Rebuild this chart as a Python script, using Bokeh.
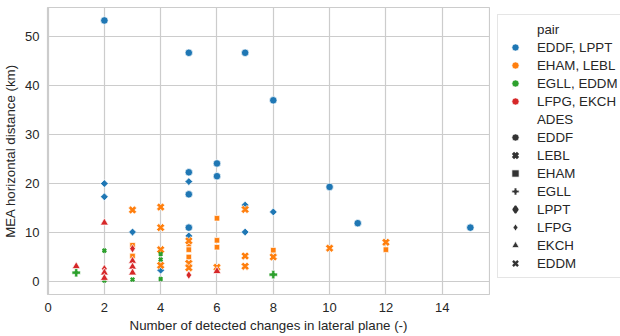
import math
from bokeh.plotting import figure
from bokeh.layouts import row
from bokeh.models import Legend, LegendItem, Range1d, FixedTicker
from bokeh.embed import file_html
from bokeh.resources import INLINE

# ---- data ----
pairs = ["EDDF, LPPT", "EHAM, LEBL", "EGLL, EDDM", "LFPG, EKCH"]
ades_list = ["EDDF", "LEBL", "EHAM", "EGLL", "LPPT", "LFPG", "EKCH", "EDDM"]
ades_pair = {"EDDF": "EDDF, LPPT", "LPPT": "EDDF, LPPT",
             "EHAM": "EHAM, LEBL", "LEBL": "EHAM, LEBL",
             "EGLL": "EGLL, EDDM", "EDDM": "EGLL, EDDM",
             "LFPG": "LFPG, EKCH", "EKCH": "LFPG, EKCH"}

eddf_x = [2, 5, 7, 8, 6, 5, 6, 10, 5, 11, 5, 15]
eddf_y = [53.3, 46.7, 46.7, 37.0, 24.1, 22.3, 21.5, 19.3, 17.8, 11.9, 11.0, 11.0]
lppt_x = [2, 2, 5, 7, 8, 3, 7, 5, 4]
lppt_y = [20.0, 17.3, 20.4, 15.6, 14.2, 10.1, 10.1, 9.3, 2.3]
eham_x = [3, 3, 5, 5, 5, 6, 6, 6, 8, 12]
eham_y = [7.4, 5.2, 7.6, 6.5, 5.0, 12.9, 8.4, 7.0, 6.4, 6.5]
lebl_x = [3, 4, 7, 4, 4, 4, 5, 5, 5, 6, 7, 7, 8, 10, 12]
lebl_y = [14.6, 15.2, 14.7, 11.0, 6.5, 3.3, 8.3, 3.7, 2.8, 2.9, 5.2, 3.1, 5.0, 6.8, 8.0]
egll_x = [1, 8]
egll_y = [1.8, 1.4]
eddm_x = [2, 2, 3, 4, 4, 4]
eddm_y = [6.3, 0.2, 0.4, 5.6, 4.5, 0.5]
lfpg_x = [2, 3, 5]
lfpg_y = [2.6, 6.7, 1.3]
ekch_x = [1, 2, 2, 2, 3, 3, 3, 6]
ekch_y = [3.1, 12.0, 1.8, 0.7, 4.2, 3.0, 1.8, 2.1]

x_ticks = [0, 2, 4, 6, 8, 10, 12, 14]
y_ticks = [0, 10, 20, 30, 40, 50]

series = {
    "EDDF": (eddf_x, eddf_y), "LPPT": (lppt_x, lppt_y),
    "EHAM": (eham_x, eham_y), "LEBL": (lebl_x, lebl_y),
    "EGLL": (egll_x, egll_y), "EDDM": (eddm_x, eddm_y),
    "LFPG": (lfpg_x, lfpg_y), "EKCH": (ekch_x, ekch_y),
}

# ---- styles ----
pair_colors = {"EDDF, LPPT": "#1f77b4", "EHAM, LEBL": "#ff7f0e",
               "EGLL, EDDM": "#2ca02c", "LFPG, EKCH": "#d62728"}
marker_style = {
    "EDDF": dict(marker="circle", size=7.5, angle=0),
    "LEBL": dict(marker="plus", size=8.5, angle=math.pi / 4),
    "EHAM": dict(marker="square", size=5.5, angle=0),
    "EGLL": dict(marker="plus", size=8.5, angle=0),
    "LPPT": dict(marker="square", size=5.5, angle=math.pi / 4),
    "LFPG": dict(marker="diamond", size=8.5, angle=0),
    "EKCH": dict(marker="triangle", size=8, angle=0),
    "EDDM": dict(marker="x", size=5, angle=0),
}
# legend glyphs cannot be rotated, so rotated shapes get an equivalent unrotated marker
legend_style = {
    "EDDF": dict(marker="circle", line_color="white", line_width=0.7),
    "LEBL": dict(marker="x", line_color="#333333", line_width=3.2),
    "EHAM": dict(marker="square", line_color="white", line_width=0.7),
    "EGLL": dict(marker="plus", line_color="white", line_width=0.7),
    "LPPT": dict(marker="diamond", line_color="#333333", line_width=1.6),
    "LFPG": dict(marker="diamond", line_color="white", line_width=0.7),
    "EKCH": dict(marker="triangle", line_color="white", line_width=0.7),
    "EDDM": dict(marker="x", line_color="#333333", line_width=2.4),
}
FONT = "Liberation Sans"
TXT = "#262626"
GRID = "#cccccc"
LEG_MARK = "#333333"

p = figure(width=490, height=336, output_backend="svg", toolbar_location=None,
           x_range=Range1d(-0.02, 15.68), y_range=Range1d(-2.66, 55.95),
           min_border_left=47, min_border_top=7, min_border_bottom=42,
           min_border_right=1, background_fill_color="white",
           border_fill_color="white")
p.outline_line_color = GRID
p.outline_line_width = 1.2

for ades in ["EDDF", "LPPT", "EHAM", "LEBL", "EGLL", "EDDM", "LFPG", "EKCH"]:
    xs, ys = series[ades]
    col = pair_colors[ades_pair[ades]]
    st = marker_style[ades]
    if st["marker"] == "x":
        p.scatter(xs, ys, marker="x", size=st["size"], line_color=col, line_width=2.2)
    else:
        p.scatter(xs, ys, marker=st["marker"], size=st["size"], angle=st["angle"],
                  fill_color=col, line_color="white", line_width=0.7)

# ---- axes ----
p.xaxis.ticker = FixedTicker(ticks=x_ticks)
p.yaxis.ticker = FixedTicker(ticks=y_ticks)
p.xaxis.axis_label = "Number of detected changes in lateral plane (-)"
p.yaxis.axis_label = "MEA horizontal distance (km)"
for ax in (p.xaxis, p.yaxis):
    ax.axis_line_color = None
    ax.major_tick_line_color = None
    ax.minor_tick_line_color = None
    ax.major_tick_out = 0
    ax.major_tick_in = 0
    ax.minor_tick_out = 0
    ax.minor_tick_in = 0
    ax.major_label_text_font = FONT
    ax.major_label_text_font_size = "13px"
    ax.major_label_text_color = TXT
    ax.axis_label_text_font = FONT
    ax.axis_label_text_font_size = "13.3px"
    ax.axis_label_text_font_style = "normal"
    ax.axis_label_text_color = TXT
p.xaxis.major_label_standoff = 8
p.xaxis.axis_label_standoff = 3
p.yaxis.major_label_standoff = 8
p.yaxis.axis_label_standoff = 4
p.xgrid.grid_line_color = GRID
p.ygrid.grid_line_color = GRID
p.xgrid.grid_line_width = 1.2
p.ygrid.grid_line_width = 1.2

# ---- legend (separate panel to the right) ----
q = figure(width=130, height=336, output_backend="svg", toolbar_location=None,
           x_range=Range1d(0, 1), y_range=Range1d(0, 1),
           x_axis_type=None, y_axis_type=None, min_border=0,
           background_fill_color="white", border_fill_color="white")
q.outline_line_color = None
q.xgrid.visible = False
q.ygrid.visible = False

# legend-only proxy glyphs, placed outside the (0..1) view so only the legend shows them
proxy_x = [5]
proxy_y = [5]

items = []
blank = q.scatter(proxy_x, proxy_y, marker="circle", size=1, fill_alpha=0, line_alpha=0)
items.append(LegendItem(label="pair", renderers=[blank]))
for pr in pairs:
    r = q.scatter(proxy_x, proxy_y, marker="circle", size=7.5, fill_color=pair_colors[pr],
                  line_color="white", line_width=0.7)
    items.append(LegendItem(label=pr, renderers=[r]))
blank2 = q.scatter(proxy_x, proxy_y, marker="circle", size=1, fill_alpha=0, line_alpha=0)
items.append(LegendItem(label="ADES", renderers=[blank2]))
for ades in ades_list:
    ls = legend_style[ades]
    r = q.scatter(proxy_x, proxy_y, marker=ls["marker"], size=7,
                  fill_color=LEG_MARK, line_color=ls["line_color"],
                  line_width=ls["line_width"])
    items.append(LegendItem(label=ades, renderers=[r]))

legend = Legend(items=items, location="top_left", margin=7, padding=5,
                glyph_width=24, glyph_height=18, label_height=18, spacing=0,
                label_standoff=10, label_text_font=FONT, label_text_font_size="13.3px",
                label_text_color=TXT, border_line_color=GRID, border_line_width=1,
                background_fill_color="white", background_fill_alpha=1.0)
q.add_layout(legend, "center")

layout = row(p, q, spacing=0)
open("out.html", "w").write(file_html(layout, INLINE))
